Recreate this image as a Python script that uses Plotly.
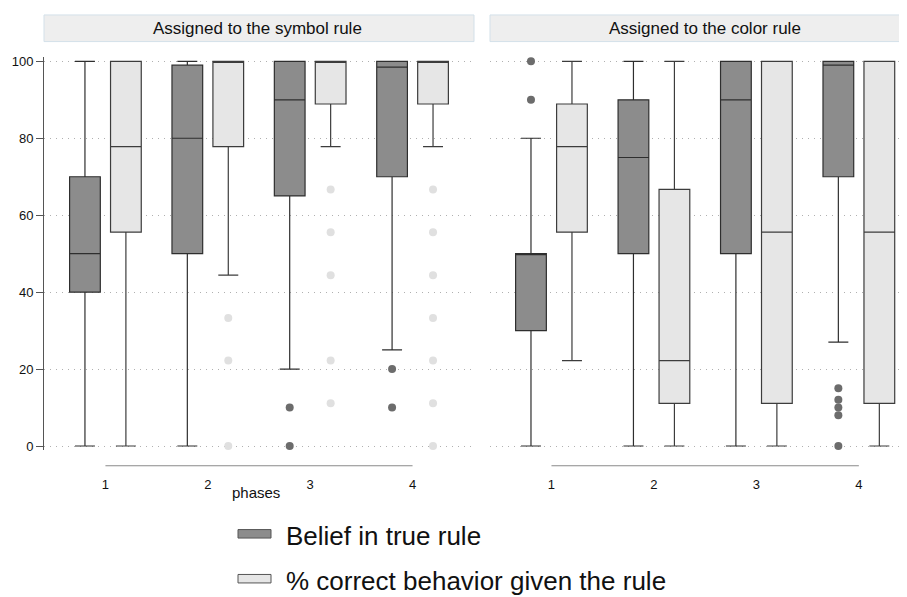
import plotly.graph_objects as go

# ---------------- data ----------------
phases = [1, 2, 3, 4]
phase_labels = ["1", "2", "3", "4"]
panel_titles = ["Assigned to the symbol rule", "Assigned to the color rule"]
series_names = ["Belief in true rule", "% correct behavior given the rule"]
y_ticks = [0, 20, 40, 60, 80, 100]

# Panel 1: assigned to the symbol rule
sym_belief_lo = [0, 0, 20, 25]
sym_belief_q1 = [40, 50, 65, 70]
sym_belief_med = [50, 80, 90, 98.5]
sym_belief_q3 = [70, 99, 100, 100]
sym_belief_hi = [100, 100, 100, 100]
sym_belief_out_phase = [3, 3, 4, 4]
sym_belief_out_val = [10, 0, 20, 10]

sym_correct_lo = [0, 44.4, 77.8, 77.8]
sym_correct_q1 = [55.6, 77.8, 88.9, 88.9]
sym_correct_med = [77.8, 100, 100, 100]
sym_correct_q3 = [100, 100, 100, 100]
sym_correct_hi = [100, 100, 100, 100]
sym_correct_out_phase = [2, 2, 2, 3, 3, 3, 3, 3, 4, 4, 4, 4, 4, 4, 4]
sym_correct_out_val = [33.3, 22.2, 0, 66.7, 55.6, 44.4, 22.2, 11.1,
                       66.7, 55.6, 44.4, 33.3, 22.2, 11.1, 0]

# Panel 2: assigned to the color rule
col_belief_lo = [0, 0, 0, 27]
col_belief_q1 = [30, 50, 50, 70]
col_belief_med = [50, 75, 90, 99]
col_belief_q3 = [50, 90, 100, 100]
col_belief_hi = [80, 100, 100, 100]
col_belief_out_phase = [1, 1, 4, 4, 4, 4, 4]
col_belief_out_val = [100, 90, 15, 12, 10, 8, 0]

col_correct_lo = [22.2, 0, 0, 0]
col_correct_q1 = [55.6, 11.1, 11.1, 11.1]
col_correct_med = [77.8, 22.2, 55.6, 55.6]
col_correct_q3 = [88.9, 66.7, 100, 100]
col_correct_hi = [100, 100, 100, 100]
col_correct_out_phase = []
col_correct_out_val = []

# ---------------- style ----------------
DARK = "#8c8c8c"
LIGHT = "#e6e6e6"
DARK_OUT = "#6c6c6c"
LIGHT_OUT = "#e0e0e0"
PAGE_OFF = 8          # default page body margin
W, H = 907 - PAGE_OFF, 597 - PAGE_OFF
OFF = 0.2
FONT = "Liberation Sans, Arial, Helvetica, sans-serif"


def py(px):
    return 1 - (px - PAGE_OFF) / H


def pxx(px):
    return (px - PAGE_OFF) / W


fig = go.Figure()

panels = [
    dict(ax=("x", "y"),
         belief=(sym_belief_lo, sym_belief_q1, sym_belief_med, sym_belief_q3, sym_belief_hi),
         correct=(sym_correct_lo, sym_correct_q1, sym_correct_med, sym_correct_q3, sym_correct_hi),
         bout=(sym_belief_out_phase, sym_belief_out_val),
         cout=(sym_correct_out_phase, sym_correct_out_val)),
    dict(ax=("x2", "y2"),
         belief=(col_belief_lo, col_belief_q1, col_belief_med, col_belief_q3, col_belief_hi),
         correct=(col_correct_lo, col_correct_q1, col_correct_med, col_correct_q3, col_correct_hi),
         bout=(col_belief_out_phase, col_belief_out_val),
         cout=(col_correct_out_phase, col_correct_out_val)),
]

for p in panels:
    xa, ya = p["ax"]
    for key, sign, fill, lc, outkey, oc, name in [
        ("belief", -1, DARK, "#2e2e2e", "bout", DARK_OUT, series_names[0]),
        ("correct", 1, LIGHT, "#3c3c3c", "cout", LIGHT_OUT, series_names[1]),
    ]:
        lo, q1, med, q3, hi = p[key]
        fig.add_trace(go.Box(
            x=[ph + sign * OFF for ph in phases],
            lowerfence=lo, q1=q1, median=med, q3=q3, upperfence=hi,
            width=0.30, whiskerwidth=0.65,
            fillcolor=fill, line=dict(color=lc, width=1.2),
            name=name, showlegend=False, hoverinfo="skip",
            xaxis=xa, yaxis=ya,
        ))
        oph, oval = p[outkey]
        if oph:
            fig.add_trace(go.Scatter(
                x=[ph + sign * OFF for ph in oph], y=oval, mode="markers",
                marker=dict(color=oc, size=8, line=dict(width=0)),
                showlegend=False, hoverinfo="skip", cliponaxis=False,
                xaxis=xa, yaxis=ya,
            ))

x_axis_px = 468
common_x = dict(
    anchor="free", position=py(x_axis_px),
    tickvals=phases, ticktext=phase_labels,
    ticks="outside", ticklen=7, tickcolor="rgba(0,0,0,0)",
    showgrid=False, zeroline=False, showline=False,
    tickfont=dict(size=13, color="#111"),
)
common_y = dict(
    range=[-1, 101], domain=[py(451.9), py(54.1)],
    tickvals=y_ticks, showgrid=True, gridcolor="#b0b0b0", gridwidth=1,
    griddash="1px,5px", zeroline=False,
)

fig.update_layout(
    width=W, height=H,
    margin=dict(l=0, r=0, t=0, b=0),
    plot_bgcolor="white", paper_bgcolor="white",
    showlegend=False, boxmode="overlay",
    font=dict(family=FONT, color="#111"),
    xaxis=dict(domain=[pxx(44), pxx(475)], range=[0.40, 4.61], **common_x),
    xaxis2=dict(domain=[pxx(490), 1.0], range=[0.40, 4.47], **common_x),
    yaxis=dict(anchor="x", showline=True, linecolor="#555", linewidth=1,
               ticks="outside", ticklen=7, tickcolor="#555",
               tickfont=dict(size=13, color="#111"), **common_y),
    yaxis2=dict(anchor="x2", showline=False, showticklabels=False, ticks="",
                **common_y),
)

shapes = []
annotations = []
# x-axis lines spanning the phases
for xr in ["x", "x2"]:
    shapes.append(dict(type="line", xref=xr, yref="paper",
                       x0=phases[0], x1=phases[-1],
                       y0=py(x_axis_px), y1=py(x_axis_px),
                       line=dict(color="#8a8a8a", width=1.2)))

# panel headers
headers = [(44, 474, 258), (490, 920, 704.5)]
for (a, b, c), title in zip(headers, panel_titles):
    shapes.append(dict(type="rect", xref="paper", yref="paper",
                       x0=pxx(a), x1=min(pxx(b), 1.0), y0=py(38), y1=py(11),
                       fillcolor="#eeeeee", line=dict(color="#d3e0e9", width=1),
                       layer="below"))
    annotations.append(dict(text=title, xref="paper", yref="paper",
                            x=pxx(c), y=py(24.5), xanchor="center", yanchor="middle",
                            showarrow=False, font=dict(size=17, color="#111")))

# x title
annotations.append(dict(text="phases", xref="paper", yref="paper",
                        x=pxx(256), y=py(495), xanchor="center", yanchor="middle",
                        showarrow=False, font=dict(size=15, color="#111")))

# legend (manual)
for (yc, fill, name) in [(537, DARK, series_names[0]), (582.5, LIGHT, series_names[1])]:
    shapes.append(dict(type="rect", xref="paper", yref="paper",
                       x0=pxx(238), x1=pxx(271), y0=py(yc + 4.3), y1=py(yc - 4.3),
                       fillcolor=fill, line=dict(color="#555", width=1)))
    annotations.append(dict(text=name, xref="paper", yref="paper",
                            x=pxx(284), y=py(yc + 2), xanchor="left", yanchor="middle",
                            showarrow=False, font=dict(size=26, color="#111")))

fig.update_layout(shapes=shapes, annotations=annotations)
fig.write_html("out.html")
